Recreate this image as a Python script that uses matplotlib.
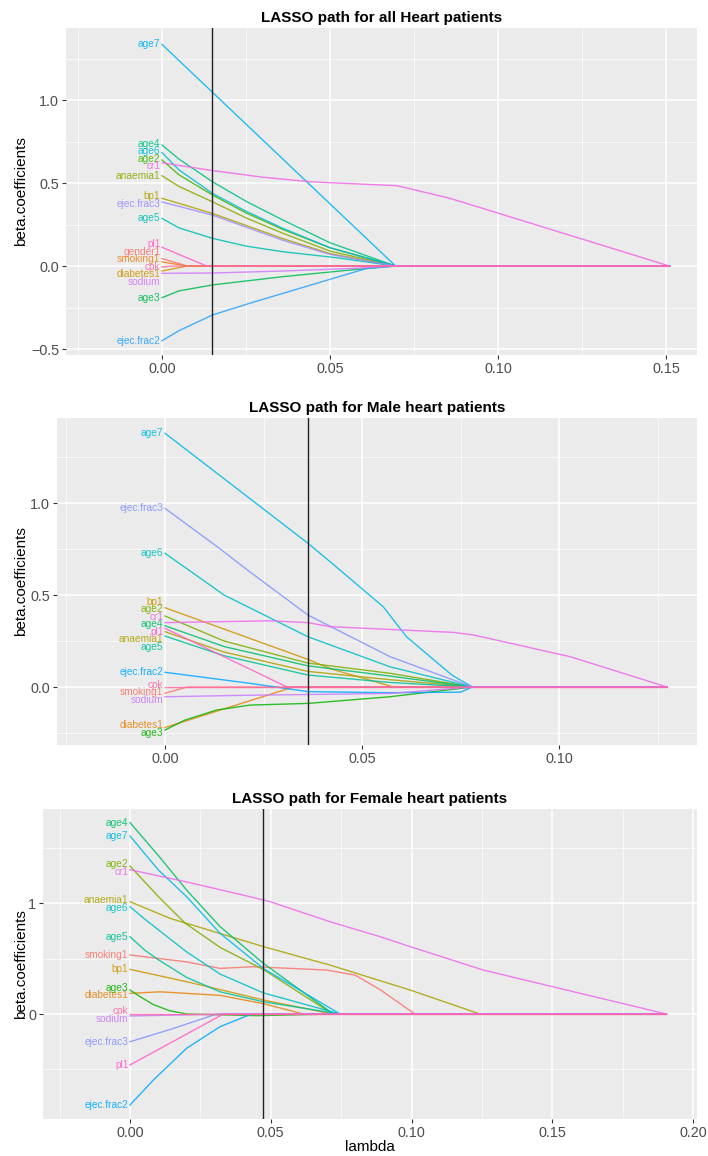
import numpy as np
import matplotlib
matplotlib.use('Agg')
import matplotlib.pyplot as plt
from matplotlib.ticker import MultipleLocator, FuncFormatter
from matplotlib.transforms import offset_copy

plt.rcParams['font.family'] = ['Liberation Sans', 'DejaVu Sans']

W, H = 708, 1156

# order of the factor levels -> ggplot hue order
var_order = ['gender1', 'smoking1', 'diabetes1', 'bp1', 'anaemia1', 'age2', 'age3',
             'age4', 'age5', 'age6', 'age7', 'ejec.frac2', 'ejec.frac3', 'sodium',
             'cr1', 'pl1', 'cpk']

# ---- all patients ----
all_title = 'LASSO path for all Heart patients'
all_cut = 0.0149
all_lam = {
    'age7': [0, 0.0695, 0.151],
    'age4': [0, 0.005, 0.015, 0.025, 0.036, 0.05, 0.0695, 0.151],
    'age6': [0, 0.005, 0.015, 0.025, 0.036, 0.05, 0.0695, 0.151],
    'age2': [0, 0.005, 0.015, 0.025, 0.036, 0.05, 0.0695, 0.151],
    'anaemia1': [0, 0.005, 0.015, 0.025, 0.036, 0.05, 0.0695, 0.151],
    'bp1': [0, 0.015, 0.036, 0.05, 0.0695, 0.151],
    'ejec.frac3': [0, 0.015, 0.036, 0.05, 0.0695, 0.151],
    'age5': [0, 0.005, 0.015, 0.025, 0.036, 0.052, 0.0695, 0.151],
    'cr1': [0, 0.015, 0.03, 0.044, 0.05, 0.0699, 0.0857, 0.151],
    'pl1': [0, 0.0133, 0.151],
    'gender1': [0, 0.0075, 0.151],
    'smoking1': [0, 0.0075, 0.151],
    'cpk': [0, 0.003, 0.151],
    'diabetes1': [0, 0.0075, 0.151],
    'sodium': [0, 0.015, 0.036, 0.056, 0.0695, 0.151],
    'age3': [0, 0.005, 0.015, 0.025, 0.036, 0.056, 0.0695, 0.151],
    'ejec.frac2': [0, 0.005, 0.015, 0.026, 0.046, 0.061, 0.0695, 0.151],
}
all_beta = {
    'age7': [1.335, 0, 0],
    'age4': [0.729, 0.645, 0.508, 0.39, 0.277, 0.14, 0, 0],
    'age6': [0.683, 0.58, 0.438, 0.33, 0.227, 0.11, 0, 0],
    'age2': [0.639, 0.55, 0.428, 0.32, 0.22, 0.11, 0, 0],
    'anaemia1': [0.544, 0.48, 0.387, 0.29, 0.197, 0.09, 0, 0],
    'bp1': [0.408, 0.317, 0.165, 0.075, 0, 0],
    'ejec.frac3': [0.386, 0.307, 0.155, 0.07, 0, 0],
    'age5': [0.287, 0.23, 0.167, 0.12, 0.086, 0.05, 0, 0],
    'cr1': [0.622, 0.575, 0.535, 0.508, 0.502, 0.484, 0.408, 0],
    'pl1': [0.113, 0, 0],
    'gender1': [0.045, 0, 0],
    'smoking1': [0.025, 0, 0],
    'cpk': [-0.006, 0, 0],
    'diabetes1': [-0.03, 0, 0],
    'sodium': [-0.044, -0.042, -0.03, -0.015, 0, 0],
    'age3': [-0.191, -0.15, -0.114, -0.09, -0.064, -0.024, 0, 0],
    'ejec.frac2': [-0.45, -0.39, -0.295, -0.225, -0.104, -0.014, 0, 0],
}

# ---- male patients ----
male_title = 'LASSO path for Male heart patients'
male_cut = 0.0363
male_lam = {
    'age7': [0, 0.0363, 0.0419, 0.0554, 0.0613, 0.0728, 0.078, 0.1274],
    'ejec.frac3': [0, 0.0131, 0.0216, 0.0363, 0.0571, 0.078, 0.1274],
    'age6': [0, 0.015, 0.0363, 0.0571, 0.078, 0.1274],
    'cr1': [0, 0.0267, 0.0363, 0.0419, 0.0732, 0.0783, 0.1028, 0.1274],
    'bp1': [0, 0.0363, 0.0419, 0.058, 0.1274],
    'age2': [0, 0.015, 0.0363, 0.057, 0.078, 0.1274],
    'age4': [0, 0.015, 0.0363, 0.057, 0.078, 0.1274],
    'anaemia1': [0, 0.015, 0.0363, 0.057, 0.078, 0.1274],
    'age5': [0, 0.015, 0.0363, 0.057, 0.078, 0.1274],
    'pl1': [0, 0.031, 0.1274],
    'ejec.frac2': [0, 0.0216, 0.0363, 0.057, 0.075, 0.078, 0.1274],
    'cpk': [0, 0.1274],
    'smoking1': [0, 0.0056, 0.1274],
    'sodium': [0, 0.02, 0.057, 0.078, 0.1274],
    'diabetes1': [0, 0.0326, 0.1274],
    'age3': [0, 0.005, 0.0131, 0.0216, 0.0363, 0.057, 0.078, 0.1274],
}
male_beta = {
    'age7': [1.379, 0.781, 0.681, 0.436, 0.273, 0.065, 0, 0],
    'ejec.frac3': [0.971, 0.765, 0.625, 0.391, 0.165, 0, 0],
    'age6': [0.727, 0.50, 0.273, 0.11, 0, 0],
    'cr1': [0.35, 0.36, 0.35, 0.328, 0.297, 0.283, 0.165, 0],
    'bp1': [0.431, 0.15, 0.10, 0, 0],
    'age2': [0.386, 0.25, 0.13, 0.075, 0, 0],
    'age4': [0.333, 0.22, 0.115, 0.06, 0, 0],
    'anaemia1': [0.301, 0.19, 0.085, 0.04, 0, 0],
    'age5': [0.277, 0.17, 0.065, 0.025, 0, 0],
    'pl1': [0.319, 0, 0],
    'ejec.frac2': [0.08, 0.02, -0.025, -0.031, -0.028, 0, 0],
    'cpk': [0, 0],
    'smoking1': [-0.034, 0, 0],
    'sodium': [-0.053, -0.045, -0.035, 0, 0],
    'diabetes1': [-0.22, 0, 0],
    'age3': [-0.234, -0.18, -0.125, -0.098, -0.089, -0.053, 0, 0],
}

# ---- female patients ----
female_title = 'LASSO path for Female heart patients'
female_cut = 0.0474
female_lam = {
    'age4': [0, 0.01, 0.0201, 0.032, 0.0474, 0.0722, 0.1905],
    'age7': [0, 0.01, 0.0201, 0.032, 0.0474, 0.0746, 0.1905],
    'age2': [0, 0.01, 0.0195, 0.032, 0.0474, 0.072, 0.1905],
    'cr1': [0, 0.0201, 0.0426, 0.05, 0.071, 0.0888, 0.0995, 0.1255, 0.1905],
    'anaemia1': [0, 0.0142, 0.0474, 0.071, 0.0995, 0.1243, 0.1905],
    'age6': [0, 0.005, 0.01, 0.0201, 0.032, 0.0474, 0.0746, 0.1905],
    'age5': [0, 0.005, 0.01, 0.0201, 0.032, 0.0474, 0.0746, 0.1905],
    'smoking1': [0, 0.02, 0.032, 0.0438, 0.0699, 0.08, 0.0888, 0.1012, 0.1905],
    'bp1': [0, 0.0201, 0.032, 0.0474, 0.072, 0.1905],
    'age3': [0, 0.004, 0.0083, 0.014, 0.0201, 0.045, 0.072, 0.1905],
    'diabetes1': [0, 0.0107, 0.032, 0.0474, 0.0616, 0.1905],
    'cpk': [0, 0.1905],
    'sodium': [0, 0.035, 0.1905],
    'ejec.frac3': [0, 0.0142, 0.0308, 0.1905],
    'pl1': [0, 0.0332, 0.1905],
    'ejec.frac2': [0, 0.0083, 0.0201, 0.032, 0.0432, 0.1905],
}
female_beta = {
    'age4': [1.724, 1.43, 1.117, 0.787, 0.456, 0, 0],
    'age7': [1.604, 1.30, 1.057, 0.727, 0.41, 0, 0],
    'age2': [1.333, 1.06, 0.82, 0.60, 0.40, 0, 0],
    'cr1': [1.30, 1.19, 1.057, 1.01, 0.832, 0.697, 0.607, 0.396, 0],
    'anaemia1': [1.012, 0.862, 0.607, 0.441, 0.216, 0, 0],
    'age6': [0.967, 0.86, 0.76, 0.56, 0.36, 0.19, 0, 0],
    'age5': [0.697, 0.58, 0.49, 0.33, 0.20, 0.11, 0, 0],
    'smoking1': [0.532, 0.47, 0.411, 0.426, 0.396, 0.35, 0.22, 0, 0],
    'bp1': [0.402, 0.291, 0.22, 0.126, 0, 0],
    'age3': [0.216, 0.15, 0.085, 0.03, 0.0, -0.015, 0, 0],
    'diabetes1': [0.186, 0.20, 0.168, 0.093, 0, 0],
    'cpk': [0, 0],
    'sodium': [-0.018, 0, 0],
    'ejec.frac3': [-0.25, -0.14, 0, 0],
    'pl1': [-0.459, 0, 0],
    'ejec.frac2': [-0.82, -0.595, -0.309, -0.114, 0, 0],
}


def hcl(h, c=100.0, l=65.0):
    # polarLUV -> sRGB, like R's hcl()
    h = np.deg2rad(h)
    u, v = c * np.cos(h), c * np.sin(h)
    Xn, Yn, Zn = 95.047, 100.0, 108.883
    un = 4 * Xn / (Xn + 15 * Yn + 3 * Zn)
    vn = 9 * Yn / (Xn + 15 * Yn + 3 * Zn)
    Y = Yn * ((l + 16) / 116) ** 3
    up = u / (13 * l) + un
    vp = v / (13 * l) + vn
    X = Y * 9 * up / (4 * vp)
    Z = Y * (12 - 3 * up - 20 * vp) / (4 * vp)
    M = np.array([[3.2404542, -1.5371385, -0.4985314],
                  [-0.9692660, 1.8760108, 0.0415560],
                  [0.0556434, -0.2040259, 1.0572252]])
    rgb = np.clip(M @ (np.array([X, Y, Z]) / 100), 0, 1)
    rgb = np.where(rgb <= 0.0031308, 12.92 * rgb, 1.055 * rgb ** (1 / 2.4) - 0.055)
    return tuple(np.clip(rgb, 0, 1))


def spread(vals, gap):
    # push overlapping labels apart (rough ggrepel)
    vals = np.asarray(vals, float)
    order = np.argsort(vals)[::-1]
    pos = vals[order].copy()
    for _ in range(400):
        for i in range(len(pos) - 1):
            d = pos[i] - pos[i + 1]
            if d < gap:
                m = (gap - d) / 2
                pos[i] += m
                pos[i + 1] -= m
    out = np.empty_like(pos)
    out[order] = pos
    return out


def minus(fmt):
    return FuncFormatter(lambda v, p: (fmt % v).replace('-', '\u2212'))


def panel(fig, box, lam, beta, cut, title, xlim, ylim, xstep, ystep, yfmt):
    l, t, r, b = box
    ax = fig.add_axes([l / W, 1 - b / H, (r - l) / W, (b - t) / H])
    ax.set_facecolor('#EBEBEB')
    for s in ax.spines.values():
        s.set_visible(False)
    ax.set_xlim(xlim)
    ax.set_ylim(ylim)
    ax.xaxis.set_major_locator(MultipleLocator(xstep))
    ax.xaxis.set_minor_locator(MultipleLocator(xstep / 2))
    ax.yaxis.set_major_locator(MultipleLocator(ystep))
    ax.yaxis.set_minor_locator(MultipleLocator(ystep / 2))
    ax.grid(which='major', color='white', lw=1.1)
    ax.grid(which='minor', color='white', lw=0.5)
    ax.set_axisbelow(True)
    ax.tick_params(which='major', length=3, width=0.8, color='#333333',
                   labelsize=10.4, labelcolor='#4D4D4D', pad=2)
    ax.tick_params(which='minor', length=0)
    ax.xaxis.set_major_formatter(minus('%.2f'))
    ax.yaxis.set_major_formatter(minus(yfmt))

    names = [v for v in var_order if v in lam]
    hues = np.linspace(15, 375, len(names) + 1)[:-1]
    cols = {n: hcl(h) for n, h in zip(names, hues)}

    for n in names:
        ax.plot(lam[n], beta[n], color=cols[n], lw=1.0, alpha=0.85, zorder=2)
    ax.axvline(cut, color='#222222', lw=1.0, zorder=3)

    ppu = (b - t) / (ylim[1] - ylim[0])
    ylab = spread([beta[n][0] for n in names], 7.5 / ppu)
    tr = offset_copy(ax.transData, fig=fig, x=-1.5, y=0, units='dots')
    for n, y in zip(names, ylab):
        ax.text(lam[n][0], y, n, transform=tr, ha='right', va='center',
                fontsize=7.3, color=cols[n], alpha=0.9, zorder=4)

    ax.set_title(title, fontsize=11, fontweight='bold', pad=4)
    fig.text(21 / W, 1 - (t + b) / 2 / H, 'beta.coefficients', rotation=90,
             ha='center', va='center', fontsize=11)
    return ax


fig = plt.figure(figsize=(W / 100, H / 100), dpi=100, facecolor='white')

panel(fig, (66, 28, 697, 355), all_lam, all_beta, all_cut, all_title,
      (-0.02857, 0.1592), (-0.536, 1.434), 0.05, 0.5, '%.1f')
panel(fig, (57, 418, 697, 745), male_lam, male_beta, male_cut, male_title,
      (-0.0274, 0.1350), (-0.315, 1.462), 0.05, 0.5, '%.1f')
panel(fig, (43, 809, 697, 1119), female_lam, female_beta, female_cut, female_title,
      (-0.0309, 0.2014), (-0.946, 1.847), 0.05, 1.0, '%d')

fig.text(370 / W, 1 - 1147 / H, 'lambda', ha='center', va='center', fontsize=11)

fig.savefig('out.png', dpi=100, facecolor='white')
